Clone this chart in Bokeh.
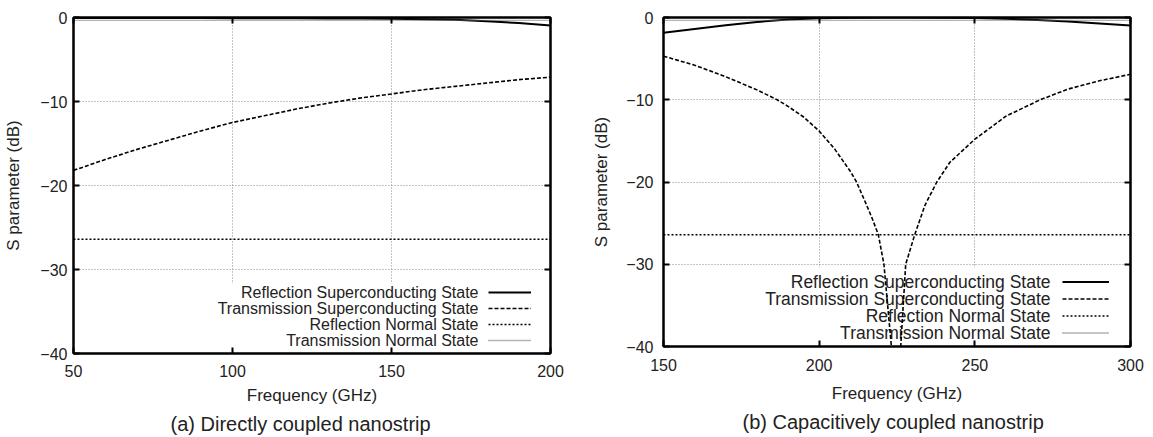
from bokeh.plotting import figure
from bokeh.models import (Range1d, LinearAxis, FixedTicker, Label, Legend,
                          LegendItem, Title, BoxAnnotation)
from bokeh.layouts import row
from bokeh.embed import file_html
from bokeh.resources import INLINE

FONT = "Liberation Sans"

# ---------------- (a) Directly coupled nanostrip ----------------
freq_a = [50, 60, 70, 80, 90, 100, 110, 120, 130, 140, 150, 160, 170, 180, 190, 200]
refl_sc_a = [-0.05, -0.05, -0.06, -0.06, -0.07, -0.08, -0.09, -0.1, -0.11, -0.13,
             -0.15, -0.2, -0.28, -0.45, -0.65, -0.95]
trans_sc_a = [-18.2, -16.9, -15.7, -14.6, -13.5, -12.5, -11.7, -10.9, -10.2, -9.6,
              -9.1, -8.6, -8.2, -7.8, -7.4, -7.1]
refl_n_a = [-26.4] * len(freq_a)
trans_n_a = [-0.35] * len(freq_a)
xticks_a = [50, 100, 150, 200]

# ---------------- (b) Capacitively coupled nanostrip ----------------
freq_b = [150, 160, 170, 180, 190, 200, 210, 220, 230, 240, 250, 260, 270, 280, 290, 300]
refl_sc_b = [-1.85, -1.4, -0.95, -0.55, -0.25, -0.1, -0.03, 0.0, -0.01, -0.03,
             -0.07, -0.15, -0.3, -0.5, -0.72, -0.97]
freq_tb = [150, 160, 170, 180, 186.5, 190, 195, 200, 205, 210, 212, 215, 217, 219, 220.8,
           223.2, 224.7, 226.2, 227.8, 230.7, 234, 237.8, 242, 250, 260, 271, 280, 290, 300]
trans_sc_b = [-4.7, -5.8, -7.2, -8.8, -10.0, -10.8, -12.1, -13.8, -16.0, -18.7, -20.0,
              -22.6, -24.4, -26.4, -30.0, -40.0, -55.0, -40.0, -30.0, -26.4, -22.8,
              -20.0, -17.6, -14.8, -12.0, -10.0, -8.7, -7.7, -6.9]
refl_n_b = [-26.4] * len(freq_b)
trans_n_b = [-0.35] * len(freq_b)
xticks_b = [150, 200, 250, 300]

yticks = [-40, -30, -20, -10, 0]
legend_labels = ["Reflection Superconducting State",
                 "Transmission Superconducting State",
                 "Reflection Normal State",
                 "Transmission Normal State"]


def make_panel(freq, refl_sc, freq_t, trans_sc, refl_n, trans_n, xticks, caption,
               fw, fh, bl, br, bt, bb, ylab_so, ylab_aso, xlab_so, xlab_aso,
               key_box, key_text_x, key_rows, key_font, sample_x, sample_y, row_h,
               sample_w, cap_offset, cap_standoff):
    p = figure(frame_width=fw, frame_height=fh,
               x_range=Range1d(xticks[0], xticks[-1]), y_range=Range1d(-40, 0),
               output_backend="svg", toolbar_location=None,
               min_border_left=bl, min_border_right=br, min_border_top=bt,
               min_border_bottom=bb)
    p.outline_line_color = "black"
    p.outline_line_width = 2
    p.background_fill_color = "white"
    p.border_fill_color = "white"

    xt = FixedTicker(ticks=xticks)
    yt = FixedTicker(ticks=yticks)
    p.xaxis.ticker = xt
    p.yaxis.ticker = yt
    p.xgrid.ticker = xt
    p.ygrid.ticker = yt
    for g in (p.xgrid, p.ygrid):
        g.grid_line_color = "#8a8a8a"
        g.grid_line_dash = "1 2"
        g.grid_line_width = 1

    for ax in (p.xaxis[0], p.yaxis[0]):
        ax.major_tick_in = 6
        ax.major_tick_out = 0
        ax.minor_tick_line_color = None
        ax.axis_line_width = 2
        ax.major_tick_line_width = 2
        ax.major_label_text_font = FONT
        ax.major_label_text_font_size = "16px"
        ax.major_label_text_color = "#222222"
        ax.axis_label_text_font = FONT
        ax.axis_label_text_font_size = "17px"
        ax.axis_label_text_font_style = "normal"
        ax.axis_label_text_color = "#222222"
    p.xaxis.axis_label = "Frequency (GHz)"
    p.yaxis.axis_label = "S parameter (dB)"
    p.yaxis.major_label_standoff = ylab_so
    p.yaxis.axis_label_standoff = ylab_aso
    p.xaxis.major_label_standoff = xlab_so
    p.xaxis.axis_label_standoff = xlab_aso

    # mirrored ticks on top and right
    for place, ticker in (("above", xt), ("right", yt)):
        ax = LinearAxis(ticker=ticker, major_tick_in=6, major_tick_out=0,
                        minor_tick_line_color=None, axis_line_width=2,
                        major_tick_line_width=2, major_label_text_color=None,
                        major_label_text_font_size="1px", major_label_standoff=0,
                        major_label_overrides={t: "" for t in ticker.ticks})
        p.add_layout(ax, place)

    # opaque key background (drawn below the curves, above the grid)
    l, r, b, t = key_box
    p.add_layout(BoxAnnotation(left=l, right=r, bottom=b, top=t,
                               left_units="screen", right_units="screen",
                               bottom_units="screen", top_units="screen",
                               fill_color="white", fill_alpha=1.0, line_alpha=0,
                               level="underlay"))
    for lab, ty in zip(legend_labels, key_rows):
        p.add_layout(Label(x=key_text_x, y=ty, x_units="screen", y_units="screen",
                           text=lab, text_align="right", text_baseline="middle",
                           text_font=FONT, text_font_size=key_font,
                           text_color="#222222", level="underlay"))

    r1 = p.line(freq, refl_sc, line_color="black", line_width=2)
    r2 = p.line(freq_t, trans_sc, line_color="black", line_width=1.6, line_dash="4 2")
    r3 = p.line(freq, refl_n, line_color="black", line_width=1.5, line_dash="2 2")
    r4 = p.line(freq, trans_n, line_color="#666666", line_width=1.3, line_dash="1 1")

    leg = Legend(items=[LegendItem(label=" ", renderers=[rr]) for rr in (r1, r2, r3, r4)],
                 location=(sample_x, sample_y), orientation="vertical",
                 glyph_width=sample_w, glyph_height=row_h, label_height=row_h,
                 label_width=0, label_standoff=0, spacing=0, padding=0, margin=0,
                 border_line_alpha=0, background_fill_alpha=0,
                 label_text_font_size="8px")
    p.add_layout(leg)

    p.add_layout(Title(text=caption, align="left", offset=cap_offset, text_font=FONT,
                       text_font_size="20px", text_font_style="normal",
                       text_color="#222222", standoff=cap_standoff), "below")
    return p


pa = make_panel(freq_a, refl_sc_a, freq_a, trans_sc_a, refl_n_a, trans_n_a, xticks_a,
                "(a) Directly coupled nanostrip",
                fw=477, fh=336, bl=73, br=35, bt=13, bb=87,
                ylab_so=6, ylab_aso=14, xlab_so=11, xlab_aso=6,
                key_box=(137, 475, 2, 70), key_text_x=405, key_rows=[61, 45, 29, 13],
                key_font="16px", sample_x=415, sample_y=5, row_h=16, sample_w=43,
                cap_offset=97, cap_standoff=6)

pb = make_panel(freq_b, refl_sc_b, freq_tb, trans_sc_b, refl_n_b, trans_n_b, xticks_b,
                "(b) Capacitively coupled nanostrip",
                fw=467, fh=329, bl=78, br=20, bt=17, bb=90,
                ylab_so=10, ylab_aso=12, xlab_so=12, xlab_aso=10,
                key_box=(97, 465, 2, 79), key_text_x=387, key_rows=[65, 48, 31, 14],
                key_font="17.5px", sample_x=399, sample_y=5, row_h=17, sample_w=47,
                cap_offset=79, cap_standoff=6)

layout = row(pa, pb)
open("out.html", "w").write(file_html(layout, INLINE))
